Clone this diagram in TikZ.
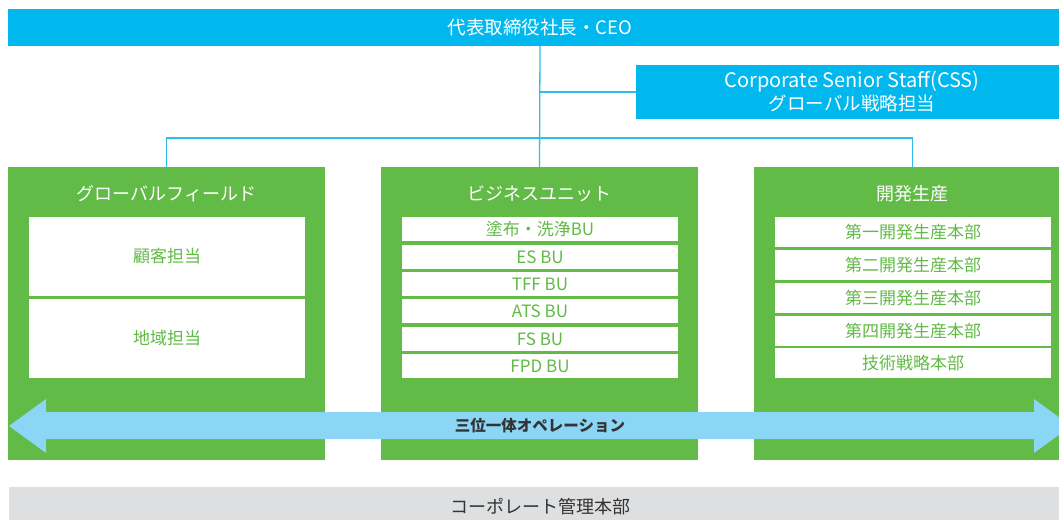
\documentclass[tikz,border=0pt]{standalone}
\usepackage{fontspec}
\setmainfont{Noto Sans CJK JP}
\definecolor{topblue}{HTML}{00B8EE}
\definecolor{lineblue}{HTML}{2FBDEC}
\definecolor{grn}{HTML}{62BA47}
\definecolor{arrowc}{HTML}{8BD5F5}
\definecolor{graybar}{HTML}{DEDFE1}
\definecolor{darktxt}{HTML}{333333}
\begin{document}
\begin{tikzpicture}[x=1pt,y=-1pt,
  box/.style={inner sep=0pt, outer sep=0pt, align=center},
  bluebox/.style={box, fill=topblue, text=white, font=\fontsize{18.5}{24}\selectfont},
  greenbox/.style={box, fill=grn, minimum width=317pt, minimum height=293pt},
  gtitle/.style={box, text=white, font=\fontsize{18}{22}\selectfont},
  whitebox/.style={box, fill=white, text=grn, minimum width=276pt, font=\fontsize{17}{20}\selectfont},
  conn/.style={draw=lineblue, line width=1.3pt}]
\useasboundingbox (0,0) rectangle (1059,519);
\begin{scope}
\clip (0,0) rectangle (1059,519);
% top
\node[bluebox, minimum width=1064pt, minimum height=37pt] (ceo) at (540,27.5) {代表取締役社長・CEO};
\node[bluebox, minimum width=432pt, minimum height=54pt] (css) at (852,92) {{\fontsize{20}{24}\selectfont Corporate Senior Staff(CSS)}\\[-1pt]グローバル戦略担当};
% green boxes
\node[greenbox] (gf) at (166.5,313.5) {};
\node[greenbox] (bu) at (539.5,313.5) {};
\node[greenbox] (pd) at (912.5,313.5) {};
% connectors
\coordinate (branch) at (540,138);
\draw[conn] (ceo.south) -- (bu.north);
\draw[conn] (css.west) -- (css.west -| ceo.south);
\draw[conn] (gf.north) |- (branch) -| (pd.north);
% titles
\node[gtitle] (gft) at (166.5,194) {グローバルフィールド};
\node[gtitle] (but) at (539.5,194) {ビジネスユニット};
\node[gtitle] (pdt) at (912.5,194) {開発生産};
% global field
\node[whitebox, minimum height=79pt] (gf1) at (167,256.5) {顧客担当};
\node[whitebox, minimum height=79pt] (gf2) at (167,338.5) {地域担当};
% business units
\node[whitebox, minimum height=24pt] (bu1) at (540,229) {塗布・洗浄BU};
\node[whitebox, minimum height=24pt] (bu2) at (540,257) {ES BU};
\node[whitebox, minimum height=24pt] (bu3) at (540,284) {TFF BU};
\node[whitebox, minimum height=24pt] (bu4) at (540,311) {ATS BU};
\node[whitebox, minimum height=24pt] (bu5) at (540,339) {FS BU};
\node[whitebox, minimum height=24pt] (bu6) at (540,366) {FPD BU};
% development
\node[whitebox, minimum height=30pt] (pd1) at (913,232) {第一開発生産本部};
\node[whitebox, minimum height=30pt] (pd2) at (913,265) {第二開発生産本部};
\node[whitebox, minimum height=30pt] (pd3) at (913,298) {第三開発生産本部};
\node[whitebox, minimum height=30pt] (pd4) at (913,331) {第四開発生産本部};
\node[whitebox, minimum height=30pt] (pd5) at (913,363) {技術戦略本部};
% arrow
\fill[arrowc] (9,426) -- (46,399) -- (46,412) -- (1034,412) -- (1034,399) -- (1071,426)
  -- (1034,453) -- (1034,439) -- (46,439) -- (46,453) -- cycle;
\node[box, text=darktxt, font=\fontsize{15.5}{18}\selectfont\bfseries] (ops) at (540,426) {三位一体オペレーション};
% corporate bar
\node[box, fill=graybar, text=darktxt, minimum width=1063pt, minimum height=40pt, font=\fontsize{18}{22}\selectfont] (corp) at (540.5,507) {コーポレート管理本部};
\end{scope}
\end{tikzpicture}
\end{document}
